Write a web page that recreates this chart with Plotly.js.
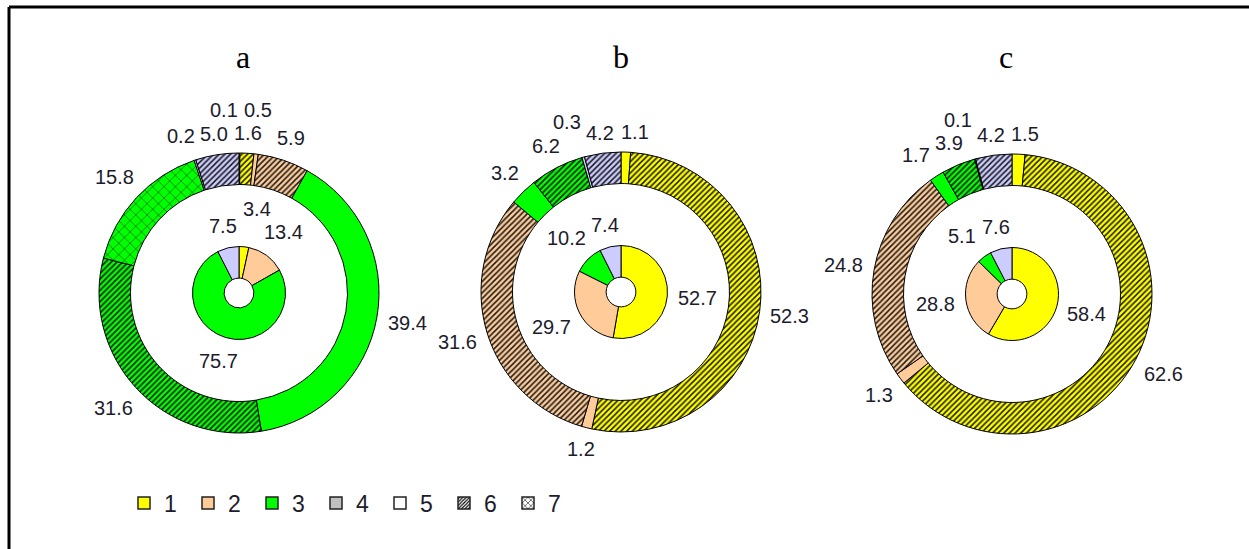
<!DOCTYPE html>
<html>
<head>
<meta charset="utf-8">
<script src="https://cdn.plot.ly/plotly-3.0.1.min.js"></script>
<style>html,body{margin:0;padding:0;background:#fff;}#chart{width:1249px;height:549px;}</style>
</head>
<body>
<div id="chart"></div>
<script>
// ---------- data ----------
const panelNames = ['a', 'b', 'c'];
const innerCategories = ['1', '2', '3', '4'];
const innerA = [3.4, 13.4, 75.7, 7.5];
const innerB = [52.7, 29.7, 10.2, 7.4];
const innerC = [58.4, 28.8, 5.1, 7.6];

const outerCategoriesA = ['1', '1', '2', '2', '3', '3', '3', '4', '4'];
const outerTypesA      = ['5', '6', '5', '6', '5', '6', '7', '5', '6'];
const outerA           = [0.1, 1.6, 0.5, 5.9, 39.4, 31.6, 15.8, 0.2, 5.0];

const outerCategoriesB = ['1', '1', '2', '2', '3', '3', '4', '4'];
const outerTypesB      = ['5', '6', '5', '6', '5', '6', '5', '6'];
const outerB           = [1.1, 52.3, 1.2, 31.6, 3.2, 6.2, 0.3, 4.2];

const outerCategoriesC = ['1', '1', '2', '2', '3', '3', '4', '4'];
const outerTypesC      = ['5', '6', '5', '6', '5', '6', '5', '6'];
const outerC           = [1.5, 62.6, 1.3, 24.8, 1.7, 3.9, 0.1, 4.2];

const legendLabels = ['1', '2', '3', '4', '5', '6', '7'];

// ---------- styles ----------
const W = 1249, H = 549;
const catColor = {'1': '#ffff00', '2': '#ffcc99', '3': '#00ff00', '4': '#ccccff'};
const legendColor = {'1': '#ffff00', '2': '#ffcc99', '3': '#00ff00', '4': '#c0c0c0', '5': '#ffffff', '6': '#ffffff', '7': '#ffffff'};
const typeShape = {'5': '', '6': '/', '7': 'x'};
const typeSize = {'5': 6, '6': 4, '7': 8};
const typeSolid = {'5': 0.3, '6': 0.38, '7': 0.12};
const centers = [{x: 239, y: 293}, {x: 621, y: 292}, {x: 1012, y: 294}];
const titleX = [243, 621, 1006];
const R_OUT = 140, R_IN = 46.5;
const LABEL_FONT = 20;
const FONT = 'Liberation Sans, Arial, sans-serif';

const panels = [
  {inner: innerA, outer: outerA, cats: outerCategoriesA, types: outerTypesA},
  {inner: innerB, outer: outerB, cats: outerCategoriesB, types: outerTypesB},
  {inner: innerC, outer: outerC, cats: outerCategoriesC, types: outerTypesC}
];

function domainFor(c, r) {
  return {x: [(c.x - r) / W, (c.x + r) / W], y: [1 - (c.y + r) / H, 1 - (c.y - r) / H]};
}
function textWidth(s, fs) {
  let w = 0;
  for (const ch of s) w += (ch === '.' ? 0.278 : 0.556) * fs;
  return w;
}
function overlaps(a, b, pad) {
  return !(a.x1 + pad <= b.x0 || b.x1 + pad <= a.x0 || a.y1 + pad <= b.y0 || b.y1 + pad <= a.y0);
}
// place each value label just outside its slice; a label that would collide
// with an already placed (larger) one is moved by the smallest radial/tangential shift
function labelAnnotations(values, c, r, gap) {
  const total = values.reduce((s, v) => s + v, 0);
  let cum = 0;
  const items = values.map((v, i) => {
    const a = (cum + v / 2) / total * 2 * Math.PI;
    cum += v;
    return {v, i, a, text: v.toFixed(1)};
  });
  const placed = [];
  const PAD = 5;
  items.slice().sort((p, q) => q.v - p.v).forEach(it => {
    const w = textWidth(it.text, LABEL_FONT), h = LABEL_FONT * 0.9;
    const makeBox = (ang, g) => {
      const dx = Math.sin(ang), dy = -Math.cos(ang);
      const ext = w / 2 * Math.abs(dx) + h / 2 * Math.abs(dy);
      const Rr = r + g + ext;
      const x = c.x + Rr * dx, y = c.y + Rr * dy;
      return {x0: x - w / 2, x1: x + w / 2, y0: y - h / 2, y1: y + h / 2, x, y};
    };
    const base = makeBox(it.a, gap);
    let best = base, bestCost = Infinity;
    if (!placed.some(b => overlaps(b, base, PAD))) {
      best = base;
    } else {
      for (let dg = 0; dg <= 60; dg += 2) {
        for (let dd = -40; dd <= 40; dd += 1) {
          const cand = makeBox(it.a + dd * Math.PI / 180, gap + dg);
          if (placed.some(b => overlaps(b, cand, PAD))) continue;
          const cost = Math.hypot(cand.x - base.x, cand.y - base.y);
          if (cost < bestCost) { bestCost = cost; best = cand; }
        }
      }
    }
    placed.push(best);
    it.box = best;
  });
  return items.map(it => ({
    x: it.box.x / W, y: 1 - it.box.y / H, xref: 'paper', yref: 'paper',
    text: it.text, showarrow: false, xanchor: 'center', yanchor: 'middle',
    font: {family: FONT, size: LABEL_FONT, color: '#1c1c2c'}
  }));
}

const traces = [];
let annotations = [];
panels.forEach((p, k) => {
  const c = centers[k];
  const cols = p.cats.map(ct => catColor[ct]);
  traces.push({
    type: 'pie', values: p.outer, labels: p.outer.map((v, i) => 'o' + k + '_' + i),
    sort: false, direction: 'clockwise', rotation: 0, hole: 0.775,
    domain: domainFor(c, R_OUT), textinfo: 'none', showlegend: false, hoverinfo: 'skip',
    marker: {
      colors: cols,
      line: {color: '#000', width: 1},
      pattern: {
        shape: p.types.map(t => typeShape[t]),
        size: p.types.map(t => typeSize[t]),
        solidity: p.types.map(t => typeSolid[t]),
        bgcolor: cols,
        fgcolor: '#1a1a1a'
      }
    }
  });
  traces.push({
    type: 'pie', values: p.inner, labels: innerCategories.map(ct => 'i' + k + '_' + ct),
    sort: false, direction: 'clockwise', rotation: 0, hole: 0.32,
    domain: domainFor(c, R_IN), textinfo: 'none', showlegend: false, hoverinfo: 'skip',
    marker: {colors: innerCategories.map(ct => catColor[ct]), line: {color: '#000', width: 1}}
  });
  annotations = annotations.concat(labelAnnotations(p.outer, c, R_OUT, 10));
  annotations = annotations.concat(labelAnnotations(p.inner, c, R_IN, 10));
  annotations.push({
    x: titleX[k] / W, y: 1 - 57 / H, xref: 'paper', yref: 'paper', text: panelNames[k],
    showarrow: false, xanchor: 'center', yanchor: 'middle',
    font: {family: 'Liberation Serif, Times New Roman, serif', size: 32, color: '#000'}
  });
});

legendLabels.forEach(l => {
  const t = l === '6' ? '/' : (l === '7' ? 'x' : '');
  traces.push({
    type: 'bar', x: [l], y: [null], name: l, showlegend: true, hoverinfo: 'skip',
    marker: {
      color: legendColor[l], line: {color: '#222', width: 1.5},
      pattern: {shape: t, size: t === 'x' ? 5 : 3, solidity: t === 'x' ? 0.25 : 0.45, fgcolor: '#000', bgcolor: '#fff'}
    }
  });
});

const layout = {
  width: W, height: H,
  margin: {l: 0, r: 0, t: 0, b: 0},
  paper_bgcolor: '#fff', plot_bgcolor: 'rgba(0,0,0,0)',
  xaxis: {visible: false, fixedrange: true}, yaxis: {visible: false, fixedrange: true, range: [0, 1]},
  showlegend: true,
  legend: {
    orientation: 'h', x: 124 / W, xanchor: 'left', y: 1 - 503 / H, yanchor: 'middle',
    entrywidth: 19, font: {family: FONT, size: 23, color: '#1c1c2c'},
    bgcolor: 'rgba(0,0,0,0)', traceorder: 'normal'
  },
  annotations: annotations,
  shapes: [
    {type: 'line', xref: 'paper', yref: 'paper', x0: 9 / W, x1: 9 / W, y0: 0, y1: 1 - 7 / H, line: {color: '#000', width: 3}},
    {type: 'line', xref: 'paper', yref: 'paper', x0: 9 / W, x1: 1, y0: 1 - 7 / H, y1: 1 - 7 / H, line: {color: '#000', width: 3}}
  ]
};

Plotly.newPlot('chart', traces, layout, {displayModeBar: false, staticPlot: true});
</script>
</body>
</html>
